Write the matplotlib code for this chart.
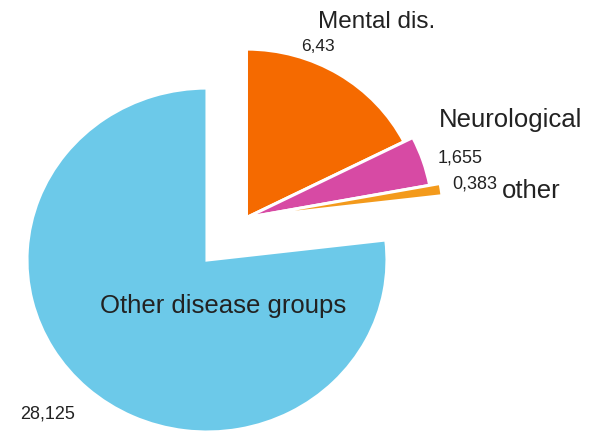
import numpy as np
import matplotlib
matplotlib.use("Agg")
import matplotlib.pyplot as plt

# Data
groups = ["Mental dis.", "Neurological", "other", "Other disease groups"]
values = [6.43, 1.655, 0.383, 28.125]
value_labels = ["6,43", "1,655", "0,383", "28,125"]
colors = ["#F56A00", "#D74AA4", "#F39A1C", "#6CC9E9"]

plt.rcParams["font.family"] = ["Liberation Sans", "DejaVu Sans"]

fig = plt.figure(figsize=(5.9, 4.32), dpi=100)
ax = fig.add_axes([0, 0, 1, 1])

wedges, _ = ax.pie(values, colors=colors, startangle=90, counterclock=False,
                   radius=1.0,
                   wedgeprops=dict(edgecolor="white", linewidth=2.2))

# pull the three small groups out together, as one block
t1 = min(w.theta1 for w in wedges[:3])
t2 = max(w.theta2 for w in wedges[:3])
mid = np.deg2rad((t1 + t2) / 2)
shift = 0.33
for w, r in zip(wedges[:3], [0.98, 1.035, 1.094]):
    w.set_center((shift * np.cos(mid), shift * np.sin(mid)))
    w.set_radius(r)

# pie is drawn slightly flattened, like the original
ax.set_xlim(-1.15, 2.128)
ax.set_ylim(-1.0, 1.512)
ax.set_aspect("auto")
ax.axis("off")

big = 18.5
small = 13
tc = "#222222"
ax.text(0.94, 1.384, groups[0], fontsize=17.5, ha="center", va="center", color=tc)
ax.text(0.617, 1.244, value_labels[0], fontsize=12.5, ha="center", va="center", color=tc)
ax.text(1.689, 0.814, groups[1], fontsize=big, ha="center", va="center", color=tc)
ax.text(1.406, 0.593, value_labels[1], fontsize=small, ha="center", va="center", color=tc)
ax.text(1.611, 0.442, value_labels[2], fontsize=small, ha="right", va="center", color=tc)
ax.text(1.639, 0.401, groups[2], fontsize=big, ha="left", va="center", color=tc)
ax.text(0.089, -0.308, groups[3], fontsize=big, ha="center", va="baseline", color=tc)
ax.text(-0.883, -0.895, value_labels[3], fontsize=small, ha="center", va="center", color=tc)

fig.savefig("out.png", dpi=100)
